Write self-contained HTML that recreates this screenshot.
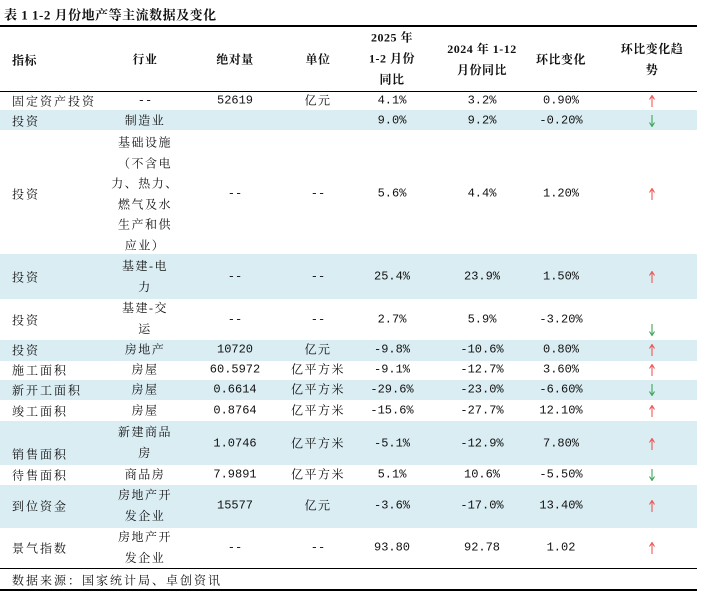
<!DOCTYPE html>
<html><head><meta charset="utf-8">
<style>
body{margin:0;width:705px;height:595px;background:#fff;position:relative;overflow:hidden;font-family:"Liberation Serif","Noto Serif CJK SC",serif;font-size:12px;color:#111}
.bg{position:absolute;left:0;width:697px;background:#daedf3}
.c{position:absolute;transform:translate(-50%,-50%);white-space:nowrap;text-align:center;line-height:21px;letter-spacing:1.5px}
.l{position:absolute;transform:translateY(-50%);white-space:nowrap;letter-spacing:2px}
.n{font-family:"Liberation Mono","Noto Serif CJK SC",monospace;letter-spacing:0}
.h{font-weight:bold;font-family:"Liberation Serif","Noto Serif CJK SC",serif;letter-spacing:0.5px}
.rule{position:absolute;left:0;width:697px;background:#000}
.ar{position:absolute;transform:translate(-50%,-50%)}
</style></head><body>
<div class="l h" style="left:4px;top:14px;font-size:13px">表 1 1-2 月份地产等主流数据及变化</div>
<div class="rule" style="top:25px;height:2px"></div>
<div class="rule" style="top:91px;height:1px"></div>

<!-- header -->
<div class="l h" style="left:12px;top:60px">指标</div>
<div class="c h" style="left:145px;top:60px">行业</div>
<div class="c h" style="left:235px;top:60px">绝对量</div>
<div class="c h" style="left:318px;top:60px">单位</div>
<div class="c h" style="left:392px;top:59px">2025 年<br>1-2 月份<br>同比</div>
<div class="c h" style="left:482px;top:60px">2024 年 1-12<br>月份同比</div>
<div class="c h" style="left:561px;top:60px">环比变化</div>
<div class="c h" style="left:652px;top:60px">环比变化趋<br>势</div>

<!-- backgrounds -->
<div class="bg" style="top:110px;height:20px"></div>
<div class="bg" style="top:254px;height:45px"></div>
<div class="bg" style="top:340px;height:21px"></div>
<div class="bg" style="top:380px;height:20px"></div>
<div class="bg" style="top:421px;height:44px"></div>
<div class="bg" style="top:485px;height:43px"></div>

<svg width="0" height="0" style="position:absolute"><defs>
<g id="up"><line x1="3" y1="2" x2="3" y2="12" stroke="#f04848" stroke-width="1"/><path d="M0.5 4.5 L3 0.5 L5.5 4.5" fill="none" stroke="#f04848" stroke-width="1"/></g>
<g id="dn"><line x1="3" y1="0" x2="3" y2="10" stroke="#2c9e4c" stroke-width="1"/><path d="M0.5 7.5 L3 11.5 L5.5 7.5" fill="none" stroke="#2c9e4c" stroke-width="1"/></g>
</defs></svg>

<!-- row 1 -->
<div class="l" style="left:12px;top:101px">固定资产投资</div>
<div class="c n" style="left:145px;top:101px">--</div>
<div class="c n" style="left:235px;top:101px">52619</div>
<div class="c" style="left:318px;top:101px">亿元</div>
<div class="c n" style="left:392px;top:101px">4.1%</div>
<div class="c n" style="left:482px;top:101px">3.2%</div>
<div class="c n" style="left:561px;top:101px">0.90%</div>
<svg class="ar" style="left:652px;top:101px" width="6" height="12"><use href="#up"/></svg>

<!-- row 2 -->
<div class="l" style="left:12px;top:121px">投资</div>
<div class="c" style="left:145px;top:121px">制造业</div>
<div class="c n" style="left:392px;top:121px">9.0%</div>
<div class="c n" style="left:482px;top:121px">9.2%</div>
<div class="c n" style="left:561px;top:121px">-0.20%</div>
<svg class="ar" style="left:652px;top:121px" width="6" height="12"><use href="#dn"/></svg>

<!-- row 3 -->
<div class="l" style="left:12px;top:194px">投资</div>
<div class="c" style="left:145px;top:194px;line-height:20.5px">基础设施<br>（不含电<br>力、热力、<br>燃气及水<br>生产和供<br>应业）</div>
<div class="c n" style="left:235px;top:194px">--</div>
<div class="c n" style="left:318px;top:194px">--</div>
<div class="c n" style="left:392px;top:194px">5.6%</div>
<div class="c n" style="left:482px;top:194px">4.4%</div>
<div class="c n" style="left:561px;top:194px">1.20%</div>
<svg class="ar" style="left:652px;top:194px" width="6" height="12"><use href="#up"/></svg>

<!-- row 4 -->
<div class="l" style="left:12px;top:277px">投资</div>
<div class="c" style="left:145px;top:277px">基建-电<br>力</div>
<div class="c n" style="left:235px;top:277px">--</div>
<div class="c n" style="left:318px;top:277px">--</div>
<div class="c n" style="left:392px;top:277px">25.4%</div>
<div class="c n" style="left:482px;top:277px">23.9%</div>
<div class="c n" style="left:561px;top:277px">1.50%</div>
<svg class="ar" style="left:652px;top:277px" width="6" height="12"><use href="#up"/></svg>

<!-- row 5 -->
<div class="l" style="left:12px;top:320px">投资</div>
<div class="c" style="left:145px;top:319px">基建-交<br>运</div>
<div class="c n" style="left:235px;top:320px">--</div>
<div class="c n" style="left:318px;top:320px">--</div>
<div class="c n" style="left:392px;top:320px">2.7%</div>
<div class="c n" style="left:482px;top:320px">5.9%</div>
<div class="c n" style="left:561px;top:320px">-3.20%</div>
<svg class="ar" style="left:652px;top:330px" width="6" height="12"><use href="#dn"/></svg>

<!-- row 6 -->
<div class="l" style="left:12px;top:350px">投资</div>
<div class="c" style="left:145px;top:350px">房地产</div>
<div class="c n" style="left:235px;top:350px">10720</div>
<div class="c" style="left:318px;top:350px">亿元</div>
<div class="c n" style="left:392px;top:350px">-9.8%</div>
<div class="c n" style="left:482px;top:350px">-10.6%</div>
<div class="c n" style="left:561px;top:350px">0.80%</div>
<svg class="ar" style="left:652px;top:350px" width="6" height="12"><use href="#up"/></svg>

<!-- row 7 -->
<div class="l" style="left:12px;top:370px">施工面积</div>
<div class="c" style="left:145px;top:370px">房屋</div>
<div class="c n" style="left:235px;top:370px">60.5972</div>
<div class="c" style="left:318px;top:370px">亿平方米</div>
<div class="c n" style="left:392px;top:370px">-9.1%</div>
<div class="c n" style="left:482px;top:370px">-12.7%</div>
<div class="c n" style="left:561px;top:370px">3.60%</div>
<svg class="ar" style="left:652px;top:370px" width="6" height="12"><use href="#up"/></svg>

<!-- row 8 -->
<div class="l" style="left:12px;top:390px">新开工面积</div>
<div class="c" style="left:145px;top:390px">房屋</div>
<div class="c n" style="left:235px;top:390px">0.6614</div>
<div class="c" style="left:318px;top:390px">亿平方米</div>
<div class="c n" style="left:392px;top:390px">-29.6%</div>
<div class="c n" style="left:482px;top:390px">-23.0%</div>
<div class="c n" style="left:561px;top:390px">-6.60%</div>
<svg class="ar" style="left:652px;top:390px" width="6" height="12"><use href="#dn"/></svg>

<!-- row 9 -->
<div class="l" style="left:12px;top:411px">竣工面积</div>
<div class="c" style="left:145px;top:411px">房屋</div>
<div class="c n" style="left:235px;top:411px">0.8764</div>
<div class="c" style="left:318px;top:411px">亿平方米</div>
<div class="c n" style="left:392px;top:411px">-15.6%</div>
<div class="c n" style="left:482px;top:411px">-27.7%</div>
<div class="c n" style="left:561px;top:411px">12.10%</div>
<svg class="ar" style="left:652px;top:411px" width="6" height="12"><use href="#up"/></svg>

<!-- row 10 -->
<div class="l" style="left:12px;top:454px">销售面积</div>
<div class="c" style="left:145px;top:443px">新建商品<br>房</div>
<div class="c n" style="left:235px;top:444px">1.0746</div>
<div class="c" style="left:318px;top:444px">亿平方米</div>
<div class="c n" style="left:392px;top:444px">-5.1%</div>
<div class="c n" style="left:482px;top:444px">-12.9%</div>
<div class="c n" style="left:561px;top:444px">7.80%</div>
<svg class="ar" style="left:652px;top:444px" width="6" height="12"><use href="#up"/></svg>

<!-- row 11 -->
<div class="l" style="left:12px;top:475px">待售面积</div>
<div class="c" style="left:145px;top:475px">商品房</div>
<div class="c n" style="left:235px;top:475px">7.9891</div>
<div class="c" style="left:318px;top:475px">亿平方米</div>
<div class="c n" style="left:392px;top:475px">5.1%</div>
<div class="c n" style="left:482px;top:475px">10.6%</div>
<div class="c n" style="left:561px;top:475px">-5.50%</div>
<svg class="ar" style="left:652px;top:475px" width="6" height="12"><use href="#dn"/></svg>

<!-- row 12 -->
<div class="l" style="left:12px;top:506px">到位资金</div>
<div class="c" style="left:145px;top:506px">房地产开<br>发企业</div>
<div class="c n" style="left:235px;top:506px">15577</div>
<div class="c" style="left:318px;top:506px">亿元</div>
<div class="c n" style="left:392px;top:506px">-3.6%</div>
<div class="c n" style="left:482px;top:506px">-17.0%</div>
<div class="c n" style="left:561px;top:506px">13.40%</div>
<svg class="ar" style="left:652px;top:506px" width="6" height="12"><use href="#up"/></svg>

<!-- row 13 -->
<div class="l" style="left:12px;top:548px">景气指数</div>
<div class="c" style="left:145px;top:548px">房地产开<br>发企业</div>
<div class="c n" style="left:235px;top:548px">--</div>
<div class="c n" style="left:318px;top:548px">--</div>
<div class="c n" style="left:392px;top:548px">93.80</div>
<div class="c n" style="left:482px;top:548px">92.78</div>
<div class="c n" style="left:561px;top:548px">1.02</div>
<svg class="ar" style="left:652px;top:548px" width="6" height="12"><use href="#up"/></svg>

<div class="rule" style="top:568px;height:1px"></div>
<div class="l" style="left:12px;top:580px">数据来源：国家统计局、卓创资讯</div>
<div class="rule" style="top:589px;height:1.5px"></div>
</body></html>
